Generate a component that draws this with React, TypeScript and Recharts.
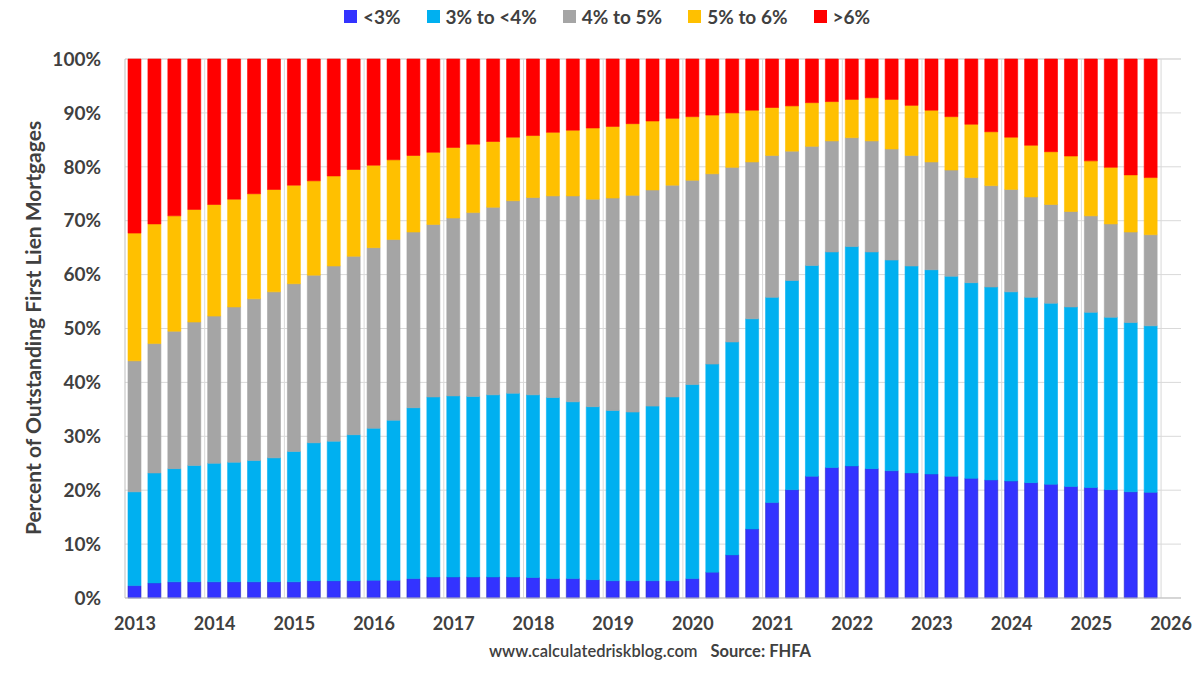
import { BarChart, Bar, XAxis, YAxis, CartesianGrid } from "recharts";

// quarterly, 2013Q1 .. 2025Q4, plus an empty 2026Q1 slot at the end
const years = [2013, 2014, 2015, 2016, 2017, 2018, 2019, 2020, 2021, 2022, 2023, 2024, 2025, 2026];
const quarters = years.flatMap((y) => ["Q1", "Q2", "Q3", "Q4"].map((q) => `${y}${q}`)).slice(0, 53);

const yTicks = [0, 10, 20, 30, 40, 50, 60, 70, 80, 90, 100];

const below3 = [
  2.3, 2.8, 3.0, 3.0, 3.0, 3.0, 3.0, 3.0, 3.0, 3.2, 3.2, 3.2, 3.3,
  3.3, 3.6, 3.9, 3.9, 3.9, 3.9, 3.9, 3.8, 3.6, 3.6, 3.4, 3.2, 3.2,
  3.2, 3.2, 3.6, 4.8, 8.0, 12.8, 17.7, 20.1, 22.6, 24.2, 24.5, 24.0, 23.6,
  23.2, 23.0, 22.6, 22.2, 21.9, 21.7, 21.4, 21.1, 20.7, 20.5, 20.1, 19.7, 19.6,
];
const from3to4 = [
  17.4, 20.4, 21.0, 21.6, 22.0, 22.2, 22.5, 23.0, 24.2, 25.6, 25.9, 27.1, 28.2,
  29.7, 31.7, 33.4, 33.6, 33.5, 33.8, 34.1, 33.9, 33.6, 32.8, 32.1, 31.6, 31.3,
  32.4, 34.1, 36.0, 38.6, 39.5, 39.0, 38.1, 38.8, 39.1, 40.0, 40.7, 40.2, 39.1,
  38.4, 37.9, 37.1, 36.3, 35.8, 35.1, 34.4, 33.6, 33.3, 32.5, 32.0, 31.4, 30.9,
];
const from4to5 = [
  24.3, 24.0, 25.5, 26.6, 27.3, 28.8, 30.0, 30.8, 31.1, 31.1, 32.5, 33.1, 33.5,
  33.5, 32.6, 32.0, 33.0, 34.1, 34.8, 35.7, 36.6, 37.4, 38.2, 38.5, 39.4, 40.2,
  40.1, 39.3, 37.9, 35.3, 32.4, 29.1, 26.3, 24.0, 22.1, 20.6, 20.2, 20.6, 20.6,
  20.5, 20.0, 19.7, 19.5, 18.8, 19.0, 18.6, 18.3, 17.7, 17.9, 17.3, 16.8, 16.9,
];
const from5to6 = [
  23.7, 22.2, 21.4, 20.9, 20.7, 20.0, 19.5, 19.0, 18.3, 17.5, 16.7, 16.1, 15.3,
  14.8, 14.2, 13.4, 13.1, 12.7, 12.2, 11.8, 11.5, 11.8, 12.2, 13.2, 13.3, 13.3,
  12.8, 12.4, 11.8, 10.9, 10.1, 9.6, 8.9, 8.4, 8.1, 7.3, 7.1, 8.0, 9.2,
  9.3, 9.6, 9.9, 9.9, 10.0, 9.7, 9.6, 9.8, 10.3, 10.2, 10.5, 10.6, 10.6,
];
const above6 = [
  32.3, 30.6, 29.1, 27.9, 27.0, 26.0, 25.0, 24.2, 23.4, 22.6, 21.7, 20.5, 19.7,
  18.7, 17.9, 17.3, 16.4, 15.8, 15.3, 14.5, 14.2, 13.6, 13.2, 12.8, 12.5, 12.0,
  11.5, 11.0, 10.7, 10.4, 10.0, 9.5, 9.0, 8.7, 8.1, 7.9, 7.5, 7.2, 7.5,
  8.6, 9.5, 10.7, 12.1, 13.5, 14.5, 16.0, 17.2, 18.0, 18.9, 20.1, 21.5, 22.0,
];

const series = [
  { key: "below3", name: "<3%", color: "#3333FF", edge: "#2525C8", values: below3 },
  { key: "from3to4", name: "3% to <4%", color: "#00B0F0", edge: "#00B0F0", values: from3to4 },
  { key: "from4to5", name: "4% to 5%", color: "#A5A5A5", edge: "#A5A5A5", values: from4to5 },
  { key: "from5to6", name: "5% to 6%", color: "#FFC000", edge: "#FFC000", values: from5to6 },
  { key: "above6", name: ">6%", color: "#FF0000", edge: "#FF0000", values: above6 },
];

const data = quarters.map((q, i) => {
  const row: Record<string, string | number | null> = { quarter: q };
  series.forEach((s) => {
    row[s.key] = i < s.values.length ? s.values[i] : null;
  });
  return row;
});

const FONT = "Lato, 'Open Sans', 'Liberation Sans', sans-serif";
const TEXT = "#404040";

const MARGIN = { top: 59, right: 19, left: 60, bottom: 47 };
const Y_AXIS_W = 65;
const PLOT_LEFT = MARGIN.left + Y_AXIS_W;
const PLOT_W = 1200 - PLOT_LEFT - MARGIN.right;

export default function App() {
  return (
    <div style={{ position: "relative", width: 1200, height: 675, background: "#fff", fontFamily: FONT }}>
      <style>{`body { margin: 0; }`}</style>

      {/* legend */}
      <div
        style={{
          position: "absolute",
          top: 5,
          left: 0,
          width: 1200,
          paddingLeft: 14,
          boxSizing: "border-box",
          display: "flex",
          justifyContent: "center",
          gap: 26,
          fontSize: 19,
          fontWeight: 700,
          color: TEXT,
        }}
      >
        {series.map((s) => (
          <div key={s.key} style={{ display: "flex", alignItems: "center", gap: 6 }}>
            <span style={{ display: "inline-block", width: 13, height: 13, background: s.color }} />
            <span>{s.name}</span>
          </div>
        ))}
      </div>

      {/* y axis title */}
      <div
        style={{
          position: "absolute",
          left: 32,
          top: 328,
          transform: "translate(-50%, -50%) rotate(-90deg)",
          whiteSpace: "nowrap",
          fontSize: 21,
          fontWeight: 700,
          color: TEXT,
        }}
      >
        Percent of Outstanding First Lien Mortgages
      </div>

      <BarChart width={1200} height={675} data={data} margin={MARGIN} barSize={13}>
        <CartesianGrid
          stroke="#D9D9D9"
          verticalCoordinatesGenerator={() =>
            years.slice(1).map((_, i) => PLOT_LEFT + ((i + 1) * 4 * PLOT_W) / quarters.length)
          }
        />
        <XAxis
          dataKey="quarter"
          interval={3}
          tickFormatter={(v: string) => v.slice(0, 4)}
          tickLine={false}
          tickSize={0}
          tickMargin={19}
          axisLine={{ stroke: "#BFBFBF" }}
          tick={{ fill: TEXT, fontSize: 18, fontWeight: 700, fontFamily: FONT }}
        />
        <YAxis
          width={Y_AXIS_W}
          domain={[0, 100]}
          ticks={yTicks}
          tickFormatter={(v: number) => `${v}%`}
          tickLine={false}
          tickSize={0}
          tickMargin={24}
          axisLine={{ stroke: "#BFBFBF" }}
          tick={{ fill: TEXT, fontSize: 19, fontWeight: 700, fontFamily: FONT }}
        />
        {series.map((s) => (
          <Bar
            key={s.key}
            dataKey={s.key}
            name={s.name}
            stackId="a"
            fill={s.color}
            stroke={s.edge}
            strokeWidth={0.6}
            isAnimationActive={false}
          />
        ))}
      </BarChart>

      {/* source note */}
      <div
        style={{
          position: "absolute",
          top: 641,
          left: 0,
          width: 1200,
          paddingLeft: 100,
          boxSizing: "border-box",
          textAlign: "center",
          fontSize: 16.5,
          color: TEXT,
        }}
      >
        <span style={{ fontWeight: 600 }}>www.calculatedriskblog.com</span>
        <span style={{ fontWeight: 700, marginLeft: 13 }}>Source: FHFA</span>
      </div>
    </div>
  );
}
